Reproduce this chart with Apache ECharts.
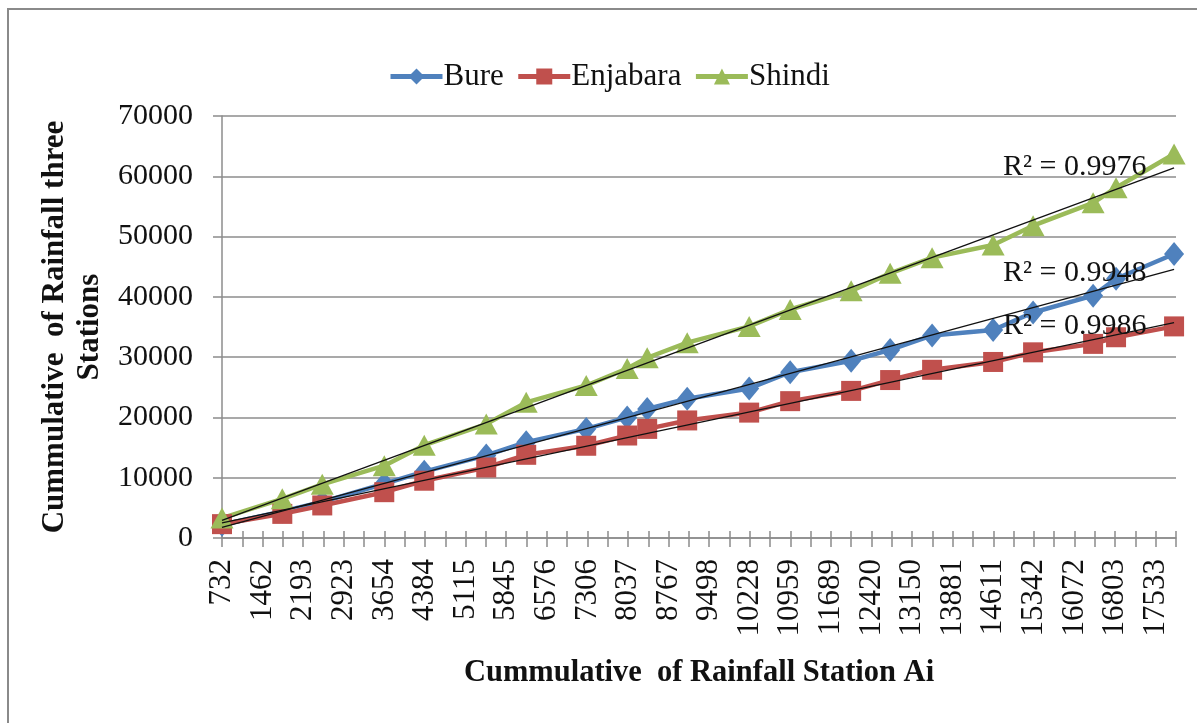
<!DOCTYPE html>
<html>
<head>
<meta charset="utf-8">
<script src="https://cdn.jsdelivr.net/npm/echarts@6/dist/echarts.min.js"></script>
<style>
  html,body{margin:0;padding:0;background:#fff;}
  #chart{width:1197px;height:723px;}
</style>
</head>
<body>
<div id="chart"></div>
<script>
// cumulative rainfall of station Ai (x) and of the three stations (y)
var stationAi=[732,1817,2536,3652,4371,5487,6206,7286,8023,8383,9103,10218,10956,12053,12755,13510,14608,15327,16407,16820,17864];
var bure=[2200,4400,6000,9000,11000,13700,15900,18100,20000,21400,23100,24800,27500,29400,31200,33600,34500,37400,40200,43000,47100];
var enjabara=[2300,4000,5400,7600,9500,11700,13800,15300,17000,18100,19500,20800,22700,24400,26200,27900,29200,30800,32200,33300,35100];
var shindi=[3300,6500,8900,12000,15400,18900,22500,25300,28100,29900,32400,35100,37900,41000,43900,46500,48600,51800,55600,58100,63700];
var xLabels=["732","1462","2193","2923","3654","4384","5115","5845","6576","7306","8037","8767","9498","10228","10959","11689","12420","13150","13881","14611","15342","16072","16803","17533"];
var r2Labels=["R² = 0.9976","R² = 0.9948","R² = 0.9986"];

var xMin=732;
var xStep=365.25;
var xMax=xMin+47*xStep;
var serif='"Liberation Serif","Times New Roman",serif';

function pairs(ys){
  return stationAi.map((x,i)=>[x,ys[i]]);
}

// least squares line over the plotted points
function trend(ys){
  let n=ys.length,sx=0,sy=0,sxx=0,sxy=0;
  for(let i=0;i<n;i++){
    sx+=stationAi[i];sy+=ys[i];
    sxx+=stationAi[i]*stationAi[i];sxy+=stationAi[i]*ys[i];
  }
  let b=(n*sxy-sx*sy)/(n*sxx-sx*sx);
  let a=(sy-b*sx)/n;
  let x0=stationAi[0],x1=stationAi[n-1];
  return [[x0,a+b*x0],[x1,a+b*x1]];
}

function mainSeries(name,ys,color,symbol,size){
  return {
    name:name,
    type:'line',
    data:pairs(ys),
    symbol:symbol,
    symbolSize:size,
    lineStyle:{width:4.5,color:color},
    itemStyle:{color:color},
    z:2
  };
}

function trendSeries(ys){
  return {
    type:'line',
    data:trend(ys),
    symbol:'none',
    silent:true,
    lineStyle:{width:1.3,color:'#111'},
    z:4
  };
}

var chart=echarts.init(document.getElementById('chart'));

var option={
  animation:false,
  backgroundColor:'#fff',
  grid:{left:222,right:21,top:116,bottom:185,containLabel:false},
  legend:{
    data:['Bure','Enjabara','Shindi'],
    left:383,
    top:56,
    itemWidth:52,
    itemHeight:20,
    itemGap:12,
    lineStyle:{width:5},
    textStyle:{fontFamily:serif,fontSize:31,color:'#111',padding:[0,0,0,-4]}
  },
  xAxis:[
    {
      type:'value',
      min:xMin,
      max:xMax,
      interval:xStep,
      name:'Cummulative  of Rainfall Station Ai',
      nameLocation:'middle',
      nameGap:120,
      nameTextStyle:{fontFamily:serif,fontSize:30.5,fontWeight:'bold',color:'#111'},
      axisLine:{onZero:false,lineStyle:{color:'#8c8c8c',width:1.5}},
      axisTick:{show:true,length:9,lineStyle:{color:'#8c8c8c',width:1.5}},
      splitLine:{show:false},
      axisLabel:{
        rotate:90,
        margin:21,
        fontFamily:serif,
        fontSize:31,
        color:'#111',
        showMinLabel:true,
        showMaxLabel:true,
        formatter:function(v){
          let k=Math.round((v-xMin)/xStep);
          return k%2===0&&xLabels[k/2]!==undefined?xLabels[k/2]:'';
        }
      }
    },
    {
      type:'value',
      min:xMin,
      max:xMax,
      interval:xStep,
      position:'bottom',
      axisLine:{show:false},
      axisTick:{show:true,inside:true,length:7,lineStyle:{color:'#8c8c8c',width:1.5}},
      axisLabel:{show:false},
      splitLine:{show:false}
    }
  ],
  yAxis:{
    type:'value',
    min:0,
    max:70000,
    interval:10000,
    name:'Cummulative  of Rainfall three\nStations',
    nameLocation:'middle',
    nameRotate:90,
    nameGap:110,
    nameTextStyle:{fontFamily:serif,fontSize:31,fontWeight:'bold',color:'#111',lineHeight:35,align:'center'},
    axisLine:{show:true,lineStyle:{color:'#8c8c8c',width:1.5}},
    axisTick:{show:true,length:9,lineStyle:{color:'#8c8c8c',width:1.5}},
    splitLine:{show:true,lineStyle:{color:'#8c8c8c',width:1.5}},
    axisLabel:{margin:29,fontFamily:serif,fontSize:30,color:'#111',formatter:function(v){return String(v);}}
  },
  graphic:[
    {type:'rect',shape:{x:8,y:9,width:1200,height:720},style:{fill:'none',stroke:'#8a8a8a',lineWidth:2},silent:true},
    {type:'text',x:1003,y:167,style:{text:r2Labels[0],font:'30px '+serif,fill:'#111',textVerticalAlign:'middle'},z:3},
    {type:'text',x:1003,y:273,style:{text:r2Labels[1],font:'30px '+serif,fill:'#111',textVerticalAlign:'middle'},z:3},
    {type:'text',x:1003,y:326,style:{text:r2Labels[2],font:'30px '+serif,fill:'#111',textVerticalAlign:'middle'},z:3}
  ],
  series:[
    mainSeries('Bure',bure,'#4F81BD','diamond',[20,24]),
    mainSeries('Enjabara',enjabara,'#C0504D','rect',20),
    mainSeries('Shindi',shindi,'#9BBB59','triangle',[23,21]),
    trendSeries(bure),
    trendSeries(enjabara),
    trendSeries(shindi)
  ]
};

chart.setOption(option);

window.onresize=function(){
  chart.resize();
}
</script>
</body>
</html>
